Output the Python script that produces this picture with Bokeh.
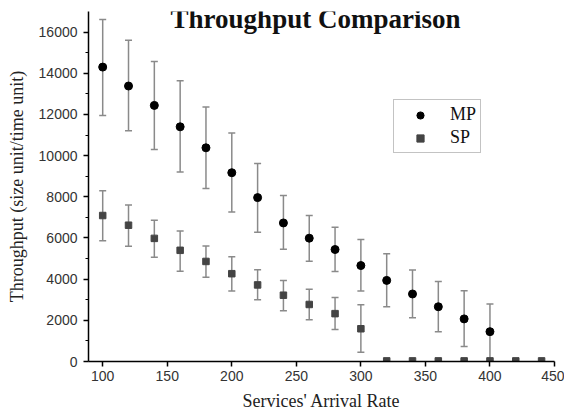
from bokeh.plotting import figure
from bokeh.models import (ColumnDataSource, Whisker, TeeHead, FixedTicker, Range1d,
                          Label, Legend, LegendItem)
from bokeh.embed import file_html
from bokeh.resources import INLINE

# ---- data ----
mp_x = [100, 120, 140, 160, 180, 200, 220, 240, 260, 280, 300, 320, 340, 360, 380, 400]
mp_y = [14300, 13380, 12440, 11400, 10380, 9170, 7960, 6730, 5990, 5440, 4660, 3940, 3280, 2660, 2070, 1450]
mp_upper = [16610, 15600, 14570, 13640, 12360, 11100, 9620, 8060, 7090, 6520, 5920, 5230, 4450, 3890, 3440, 2790]
mp_lower = [11950, 11210, 10300, 9200, 8400, 7260, 6280, 5450, 4870, 4370, 3420, 2660, 2120, 1440, 730, 0]

sp_x = [100, 120, 140, 160, 180, 200, 220, 240, 260, 280, 300, 320, 340, 360, 380, 400, 420, 440]
sp_y = [7090, 6620, 5980, 5400, 4860, 4265, 3720, 3220, 2770, 2325, 1590, 30, 30, 30, 30, 30, 30, 30]
sp_err_x = [100, 120, 140, 160, 180, 200, 220, 240, 260, 280, 300]
sp_upper = [8290, 7600, 6865, 6343, 5608, 5085, 4459, 3940, 3515, 3108, 2757]
sp_lower = [5869, 5592, 5069, 4384, 4098, 3426, 3000, 2470, 2031, 1557, 448]

x_ticks = [100, 150, 200, 250, 300, 350, 400, 450]
y_ticks = [0, 2000, 4000, 6000, 8000, 10000, 12000, 14000, 16000]
y_minor = [1000, 3000, 5000, 7000, 9000, 11000, 13000, 15000]

title_text = "Throughput Comparison"
x_label = "Services' Arrival Rate"
y_label = "Throughput (size unit/time unit)"

# ---- figure ----
p = figure(width=564, height=416, output_backend="svg", toolbar_location=None,
           x_range=Range1d(89, 450), y_range=Range1d(0, 17000),
           min_border_left=88, min_border_right=10, min_border_top=11, min_border_bottom=55)
p.outline_line_color = None
p.xgrid.visible = False
p.ygrid.visible = False
p.background_fill_color = "white"
p.border_fill_color = "white"

mp_src = ColumnDataSource(dict(x=mp_x, y=mp_y, upper=mp_upper, lower=mp_lower))
sp_src = ColumnDataSource(dict(x=sp_x, y=sp_y))
sp_err_src = ColumnDataSource(dict(x=sp_err_x, upper=sp_upper, lower=sp_lower))

err_color = "#8a8a8a"
for src in (mp_src, sp_err_src):
    w = Whisker(source=src, base="x", upper="upper", lower="lower",
                line_color=err_color, line_width=1.5,
                upper_head=TeeHead(size=7, line_color=err_color, line_width=1.5),
                lower_head=TeeHead(size=7, line_color=err_color, line_width=1.5))
    p.add_layout(w)

r_mp = p.scatter("x", "y", source=mp_src, marker="circle", size=8,
                 fill_color="black", line_color="black")
r_sp = p.scatter("x", "y", source=sp_src, marker="square", size=6.5,
                 fill_color="#444444", line_color="#444444")

# ---- axes ----
for ax in (p.xaxis[0], p.yaxis[0]):
    ax.axis_line_color = "black"
    ax.axis_line_width = 1.5
    ax.major_tick_line_color = "black"
    ax.major_tick_line_width = 1.5
    ax.major_tick_in = 0
    ax.major_tick_out = 5
    ax.minor_tick_line_color = "black"
    ax.minor_tick_line_width = 1.2
    ax.minor_tick_in = 0
    ax.minor_tick_out = 3
    ax.major_label_text_font = "Liberation Sans"
    ax.major_label_text_font_size = "14px"
    ax.major_label_text_color = "#333333"
    ax.axis_label_text_font = "Liberation Serif"
    ax.axis_label_text_font_size = "18px"
    ax.axis_label_text_font_style = "normal"
    ax.axis_label_text_color = "#222222"

p.xaxis.ticker = FixedTicker(ticks=x_ticks)
p.yaxis.ticker = FixedTicker(ticks=y_ticks, minor_ticks=y_minor)
p.xaxis.minor_tick_line_color = None
p.xaxis.major_label_standoff = 4
p.yaxis.major_label_standoff = 6
p.xaxis.axis_label = x_label
p.yaxis.axis_label = y_label
p.xaxis.axis_label_standoff = 7
p.yaxis.axis_label_standoff = 9

# ---- title as overlay ----
title = Label(x=227, y=343, x_units="screen", y_units="screen", text=title_text,
              text_font="Liberation Serif", text_font_size="27px",
              text_font_style="bold", text_color="#111111",
              text_align="center", text_baseline="middle")
p.add_layout(title)

# ---- legend ----
legend = Legend(items=[LegendItem(label="MP", renderers=[r_mp]),
                       LegendItem(label="SP", renderers=[r_sp])],
                location=(305, 208), orientation="vertical",
                padding=4, spacing=2, glyph_width=44, glyph_height=18,
                label_height=18, label_standoff=8, margin=0,
                label_text_font="Liberation Serif", label_text_font_size="18px",
                label_text_color="#111111",
                border_line_color="#888888", border_line_width=1.5,
                background_fill_color="white", background_fill_alpha=1.0)
p.add_layout(legend, "center")

open("out.html", "w").write(file_html(p, INLINE))
